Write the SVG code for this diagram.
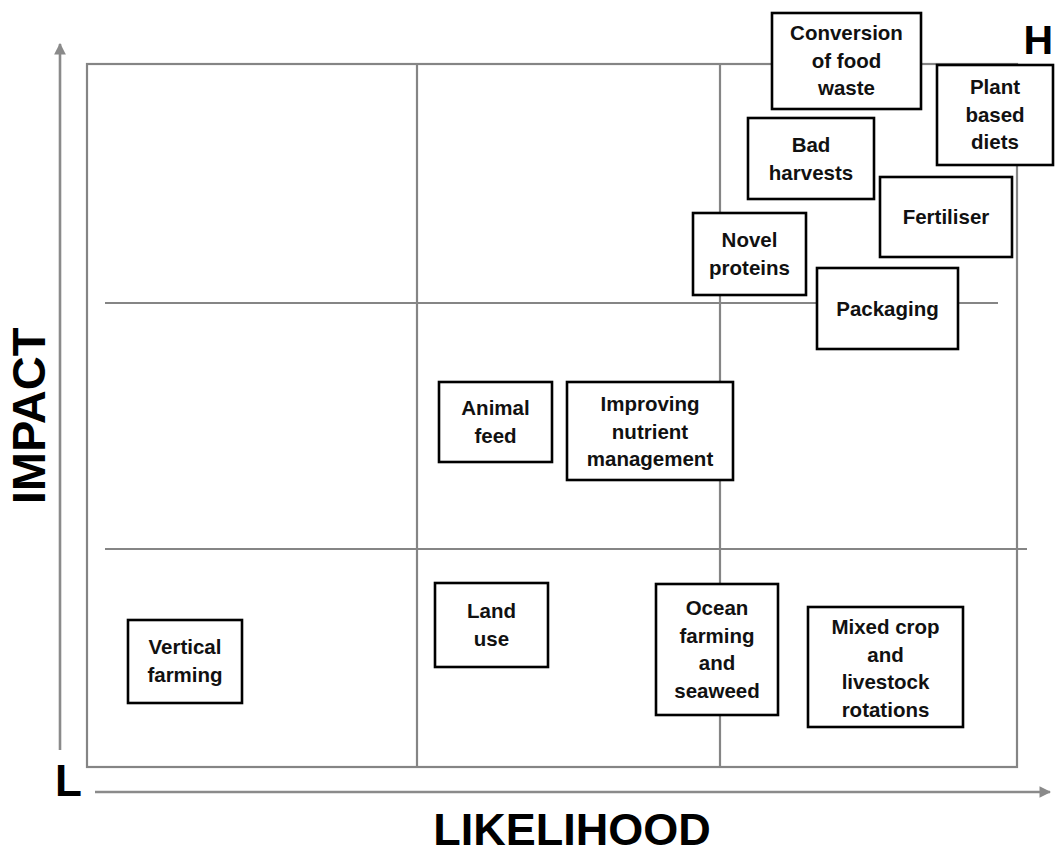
<svg xmlns="http://www.w3.org/2000/svg" width="1055" height="855" viewBox="0 0 1055 855">
<style>
.grid{stroke:#858585;stroke-width:2.2;fill:none}
.axis{stroke:#8a8a8a;stroke-width:2.6;fill:none}
.box{fill:#fff;stroke:#000;stroke-width:2.6}
.t{font-family:"Liberation Sans",Arial,sans-serif;font-weight:bold;font-size:20.5px;fill:#111;text-anchor:middle}
.big{font-family:"Liberation Sans",Arial,sans-serif;font-weight:bold;fill:#000}
</style>
<defs>
<marker id="ah" viewBox="0 0 10 10" refX="9" refY="5" markerWidth="4.5" markerHeight="4.5" orient="auto" markerUnits="strokeWidth">
<path d="M0,0 L10,5 L0,10 z" fill="#8a8a8a"/>
</marker>
</defs>
<rect width="1055" height="855" fill="#fff"/>
<g id="connectors">
<rect class="grid" x="87" y="64" width="930" height="703"/>
<line class="grid" x1="417" y1="64" x2="417" y2="767"/>
<line class="grid" x1="720" y1="64" x2="720" y2="767"/>
<line class="grid" x1="105" y1="303" x2="998" y2="303"/>
<line class="grid" x1="105" y1="549" x2="1027" y2="549"/>
<line class="axis" x1="60" y1="750" x2="60" y2="44" marker-end="url(#ah)"/>
<line class="axis" x1="95" y1="792" x2="1050" y2="792" marker-end="url(#ah)"/>
</g>
<g id="labels">
<text class="big" x="1053" y="54" font-size="41" text-anchor="end">H</text>
<text class="big" x="55" y="796" font-size="44">L</text>
<text class="big" font-size="47" text-anchor="middle" transform="translate(45,416) rotate(-90)">IMPACT</text>
<text class="big" x="572" y="845" font-size="45" text-anchor="middle">LIKELIHOOD</text>
</g>
<g id="conversion">
<rect class="box" x="772" y="13" width="149" height="96"/>
<text class="t" x="846.5" y="40">Conversion</text>
<text class="t" x="846.5" y="67.5">of food</text>
<text class="t" x="846.5" y="95">waste</text>
</g>
<g id="plant">
<rect class="box" x="937" y="65" width="116" height="100"/>
<text class="t" x="995" y="94">Plant</text>
<text class="t" x="995" y="121.5">based</text>
<text class="t" x="995" y="149">diets</text>
</g>
<g id="bad">
<rect class="box" x="748" y="118" width="126" height="81"/>
<text class="t" x="811" y="152">Bad</text>
<text class="t" x="811" y="179.5">harvests</text>
</g>
<g id="fertiliser">
<rect class="box" x="880" y="177" width="132" height="80"/>
<text class="t" x="946" y="224">Fertiliser</text>
</g>
<g id="novel">
<rect class="box" x="693" y="213" width="113" height="82"/>
<text class="t" x="749.5" y="247">Novel</text>
<text class="t" x="749.5" y="274.5">proteins</text>
</g>
<g id="packaging">
<rect class="box" x="817" y="268" width="141" height="81"/>
<text class="t" x="887.5" y="315.5">Packaging</text>
</g>
<g id="animal">
<rect class="box" x="439" y="382" width="113" height="80"/>
<text class="t" x="495.5" y="415">Animal</text>
<text class="t" x="495.5" y="442.5">feed</text>
</g>
<g id="improving">
<rect class="box" x="567" y="382" width="166" height="98"/>
<text class="t" x="650" y="411">Improving</text>
<text class="t" x="650" y="438.5">nutrient</text>
<text class="t" x="650" y="466">management</text>
</g>
<g id="landuse">
<rect class="box" x="435" y="583" width="113" height="84"/>
<text class="t" x="491.5" y="618">Land</text>
<text class="t" x="491.5" y="645.5">use</text>
</g>
<g id="vertical">
<rect class="box" x="128" y="620" width="114" height="83"/>
<text class="t" x="185" y="654">Vertical</text>
<text class="t" x="185" y="681.5">farming</text>
</g>
<g id="ocean">
<rect class="box" x="656" y="584" width="122" height="131"/>
<text class="t" x="717" y="615">Ocean</text>
<text class="t" x="717" y="642.5">farming</text>
<text class="t" x="717" y="670">and</text>
<text class="t" x="717" y="697.5">seaweed</text>
</g>
<g id="mixed">
<rect class="box" x="808" y="607" width="155" height="120"/>
<text class="t" x="885.5" y="634">Mixed crop</text>
<text class="t" x="885.5" y="661.5">and</text>
<text class="t" x="885.5" y="689">livestock</text>
<text class="t" x="885.5" y="716.5">rotations</text>
</g>
</svg>
